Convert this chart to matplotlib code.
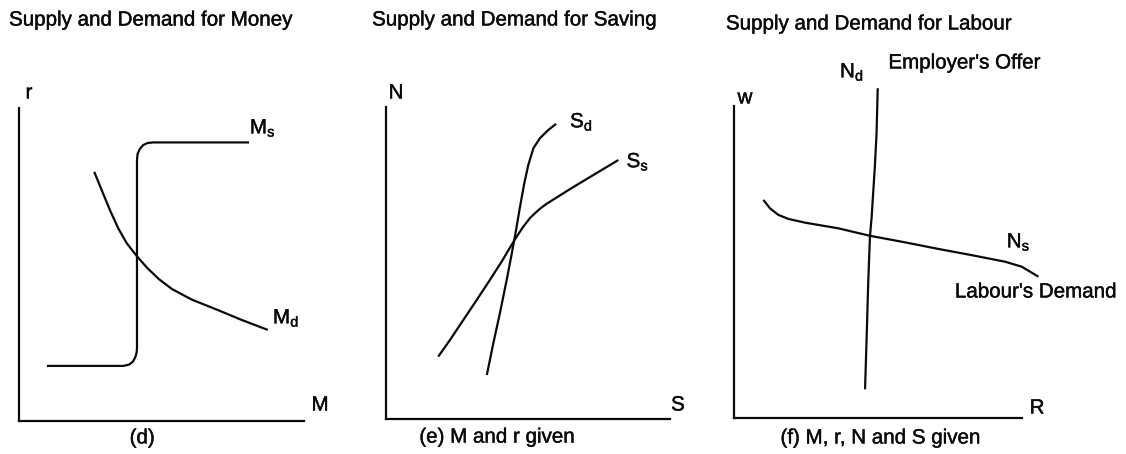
import matplotlib
matplotlib.use("Agg")
import matplotlib.pyplot as plt
import matplotlib.patheffects as pe

plt.rcParams['font.family'] = ['Liberation Sans', 'DejaVu Sans']
plt.rcParams['mathtext.fontset'] = 'custom'
plt.rcParams['mathtext.rm'] = 'Liberation Sans'
plt.rcParams['mathtext.it'] = 'Liberation Sans'

INK = '#0a0a0a'
LW = 1.6
FS = 14.8

# --- (d) money market: r against M ---
ms_x = [9.8, 36.6, 38.6, 40.0, 40.9, 41.3, 41.4, 41.4, 41.6, 42.3, 43.5, 45.0, 47.0, 80.7]
ms_y = [17.6, 17.6, 18.0, 19.0, 20.6, 22.0, 23.3, 83.4, 85.3, 86.8, 88.1, 88.8, 89.0, 89.0]
md_x = [26.4, 29.0, 31.9, 34.8, 37.8, 41.5, 45.0, 49.0, 53.6, 60.6, 69.9, 78.1, 87.3]
md_y = [79.6, 73.8, 67.4, 61.6, 56.8, 52.5, 48.9, 45.4, 42.2, 38.8, 35.4, 32.3, 29.1]

# --- (e) saving market: N against S ---
sd_x = [35.5, 37.8, 40.1, 42.5, 44.3, 45.8, 47.2, 48.7, 50.1, 51.9, 54.2, 57.1, 59.9]
sd_y = [14.1, 24.3, 33.9, 44.6, 53.1, 60.6, 68.1, 75.6, 81.4, 86.8, 90.0, 92.6, 94.6]
ss_x = [18.4, 22.5, 27.2, 31.9, 36.6, 40.7, 43.3, 45.7, 48.3, 50.7, 52.5, 54.5, 56.6, 64.8, 73.0, 81.8]
ss_y = [20.0, 25.3, 31.7, 38.1, 44.6, 50.4, 54.4, 58.0, 61.6, 64.4, 66.0, 67.6, 69.0, 73.7, 78.2, 83.0]

# --- (f) labour market: w against R ---
nd_x = [49.9, 49.5, 48.9, 47.8, 47.2, 46.6, 46.1, 45.5]
nd_y = [105.7, 91.2, 80.5, 64.5, 58.1, 43.2, 27.1, 9.2]
ns_x = [10.2, 12.5, 15.4, 18.9, 24.7, 36.2, 47.2, 59.4, 70.9, 82.5, 94.1, 99.9, 105.7]
ns_y = [69.9, 67.2, 65.1, 63.8, 62.6, 60.8, 58.4, 56.3, 54.2, 52.2, 50.1, 48.5, 45.3]

W, H = 1126, 454
fig = plt.figure(figsize=(W / 100, H / 100), dpi=100)
fig.patch.set_facecolor('white')
heavy = [pe.withStroke(linewidth=0.3, foreground=INK)]


def panel(left, top, right, bottom):
    ax = fig.add_axes([left / W, 1 - bottom / H, (right - left) / W, (bottom - top) / H])
    ax.set_xlim(0, 100)
    ax.set_ylim(0, 100)
    for side in ('top', 'right'):
        ax.spines[side].set_visible(False)
    for side in ('left', 'bottom'):
        ax.spines[side].set_linewidth(LW)
        ax.spines[side].set_color(INK)
    ax.set_xticks([])
    ax.set_yticks([])
    ax.patch.set_alpha(0)
    return ax


def curve(ax, x, y):
    ax.plot(x, y, color=INK, lw=LW, clip_on=False, solid_capstyle='butt',
            solid_joinstyle='round')


def label(ax, x, y, s, **kw):
    kw.setdefault('ha', 'left')
    kw.setdefault('va', 'center')
    ax.text(x, y, s, fontsize=FS, color=INK, path_effects=heavy, **kw)


ax1 = panel(19, 108, 304, 421)
curve(ax1, ms_x, ms_y)
curve(ax1, md_x, md_y)
label(ax1, 81.0, 93.6, r'$\mathregular{M_s}$')
label(ax1, 89.1, 32.9, r'$\mathregular{M_d}$')
label(ax1, 3.5, 104.8, 'r', ha='center')
label(ax1, 105.6, 5.1, 'M', ha='center')
label(ax1, 43.2, -5.4, '(d)', ha='center')
label(ax1, -3.5, 128.1, 'Supply and Demand for Money')

ax2 = panel(386, 107, 670, 419)
curve(ax2, sd_x, sd_y)
curve(ax2, ss_x, ss_y)
label(ax2, 64.8, 95.2, r'$\mathregular{S_d}$')
label(ax2, 84.7, 82.4, r'$\mathregular{S_s}$')
label(ax2, 3.5, 104.5, 'N', ha='center')
label(ax2, 102.8, 4.5, 'S', ha='center')
label(ax2, 39.0, -5.8, '(e) M and r given', ha='center')
label(ax2, -4.9, 127.9, 'Supply and Demand for Saving')

ax3 = panel(734, 106, 1022, 418)
curve(ax3, nd_x, nd_y)
curve(ax3, ns_x, ns_y)
label(ax3, 36.8, 110.9, r'$\mathregular{N_d}$')
label(ax3, 53.6, 113.8, "Employer's Offer")
label(ax3, 94.7, 56.4, r'$\mathregular{N_s}$')
label(ax3, 76.7, 40.4, "Labour's Demand")
label(ax3, 3.8, 102.6, 'w', ha='center')
label(ax3, 105.2, 3.2, 'R', ha='center')
label(ax3, 50.7, -6.4, '(f) M, r, N and S given', ha='center')
label(ax3, -2.8, 126.3, 'Supply and Demand for Labour')

fig.savefig('out.png', dpi=100, facecolor='white')
